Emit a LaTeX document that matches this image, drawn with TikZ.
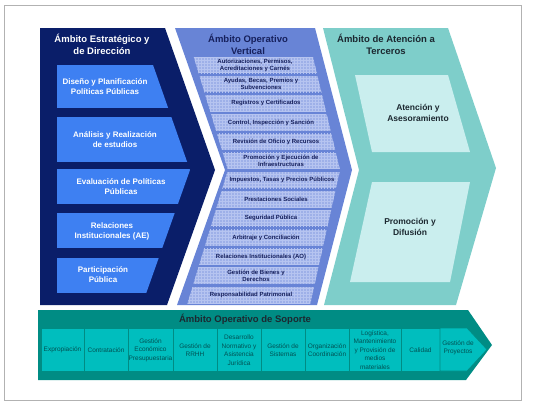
\documentclass[tikz,border=0pt]{standalone}
\usepackage{fontspec}
\setmainfont{Liberation Sans}
\usetikzlibrary{patterns}
\definecolor{navy}{RGB}{10,30,105}
\definecolor{stratbox}{RGB}{62,128,242}
\definecolor{vertfill}{RGB}{104,132,214}
\definecolor{vertbox}{RGB}{158,176,232}
\definecolor{vertgrid}{RGB}{182,196,240}
\definecolor{verttext}{RGB}{22,32,92}
\definecolor{tercfill}{RGB}{126,206,202}
\definecolor{tercbox}{RGB}{202,238,238}
\definecolor{terctext}{RGB}{28,40,48}
\definecolor{supdark}{RGB}{0,140,132}
\definecolor{supcell}{RGB}{0,190,190}
\definecolor{suptext}{RGB}{0,82,84}

\begin{document}
\begin{tikzpicture}[x=1pt, y=-1pt,
  coltitle/.style={font=\fontsize{9.5}{12}\selectfont\bfseries, align=center},
  stratitem/.style={font=\fontsize{8}{10}\selectfont\bfseries, text=white, align=center},
  vertitem/.style={font=\fontsize{6}{7}\selectfont\bfseries, text=verttext, align=center},
  tercitem/.style={font=\fontsize{8.5}{10.5}\selectfont\bfseries, text=terctext, align=center},
  supitem/.style={font=\fontsize{6.5}{8.5}\selectfont, text=suptext, align=center, inner sep=0pt},
]
\useasboundingbox (0,0) rectangle (533,408);
% Frame
\draw[gray!60, line width=0.8pt] (4,5) rectangle (521,400);

% Estrategico: dark chevron
\fill[navy] (40,28) -- (165,28) -- (215,170) -- (167,305) -- (40,305) -- cycle;
\node[coltitle, text=white] (stratTitle) at (102,44) {Ámbito Estratégico y\\de Dirección};
\begin{scope}
  \clip (57,28) -- (140,28) -- (190,170) -- (142,305) -- (57,305) -- cycle;
  \foreach \ya/\yb in {65/108, 117/162, 169/204, 213/248, 258/293}
    \fill[stratbox] (57,\ya) rectangle (230,\yb);
\end{scope}
\foreach \n/\x/\y/\txt in {1/105/87/{Diseño y Planificación\\Políticas Públicas},
    2/115/140/{Análisis y Realización\\de estudios},
    3/121/187/{Evaluación de Políticas\\Públicas},
    4/112/231/{Relaciones\\Institucionales (AE)},
    5/103/275/{Participación\\Pública}}
  \node[stratitem] (strat\n) at (\x,\y) {\txt};

% Operativo vertical: notched chevron
\fill[vertfill] (175,28) -- (315,28) -- (352,170) -- (317,305) -- (177,305) -- (225,170) -- cycle;
\node[coltitle, text=verttext] (vertTitle) at (248,44) {Ámbito Operativo\\Vertical};
\begin{scope}
  \clip (185,28) -- (306,28) -- (340,170) -- (310,305) -- (187,305) -- (228,170) -- cycle;
  \foreach \i in {0,...,12}
    \fill[vertbox, postaction={pattern=grid, pattern color=vertgrid}]
      (180,{57+19.17*\i}) rectangle (360,{73+19.17*\i});
\end{scope}
\foreach \i/\cx/\txt in {0/255/{Autorizaciones, Permisos,\\Acreditaciones y Carnés},
    1/261/{Ayudas, Becas, Premios y\\Subvenciones},
    2/266/{Registros y Certificados},
    3/271/{Control, Inspección y Sanción},
    4/276/{Revisión de Oficio y Recursos},
    5/281/{Promoción y Ejecución de\\Infraestructuras},
    6/282/{Impuestos, Tasas y Precios Públicos},
    7/276/{Prestaciones Sociales},
    8/271/{Seguridad Pública},
    9/266/{Arbitraje y Conciliación},
    10/261/{Relaciones Institucionales (AO)},
    11/256/{Gestión de Bienes y\\Derechos},
    12/251/{Responsabilidad Patrimonial}}
  \node[vertitem] (vert\i) at (\cx,{65+19.17*\i}) {\txt};

% Atencion a terceros: notched chevron
\fill[tercfill] (323,28) -- (448,28) -- (496,168) -- (456,305) -- (324,305) -- (359,170) -- cycle;
\node[coltitle, text=terctext] (tercTitle) at (386,44) {Ámbito de Atención a\\Terceros};
\fill[tercbox] (355,75) -- (448,75) -- (470,152) -- (372,152) -- cycle;
\fill[tercbox] (372,182) -- (470,182) -- (450,282) -- (350,282) -- cycle;
\node[tercitem] (terc1) at (418,113) {Atención y\\Asesoramiento};
\node[tercitem] (terc2) at (410,227) {Promoción y\\Difusión};

% Soporte: bottom arrow
\fill[supdark] (38,310) -- (468,310) -- (492,345) -- (466,380) -- (38,380) -- cycle;
\node[coltitle, text=terctext] (supTitle) at (245,319) {Ámbito Operativo de Soporte};
\foreach \xa/\xb/\txt in {41/84/Expropiación, 84/128/Contratación,
    128/173/{Gestión\\Económico\\Presupuestaria}, 173/217/{Gestión de\\RRHH},
    217/261/{Desarrollo\\Normativo y\\Asistencia\\Jurídica}, 261/305/{Gestión de\\Sistemas},
    305/349/{Organización\\Coordinación}, 349/401/{Logística,\\Mantenimiento\\y Provisión de\\medios\\materiales},
    401/440/Calidad} {
  \filldraw[fill=supcell, draw=supdark, line width=0.6pt] (\xa,328) rectangle (\xb,371);
  \node[supitem] (sup\xa) at ({(\xa+\xb)/2},350) {\txt};
}
\filldraw[fill=supcell, draw=supdark, line width=0.6pt]
  (440,328) -- (467,328) -- (487,349.5) -- (467,371) -- (440,371) -- cycle;
\node[supitem] (sup440) at (458,348) {Gestión de\\Proyectos};
\end{tikzpicture}
\end{document}
